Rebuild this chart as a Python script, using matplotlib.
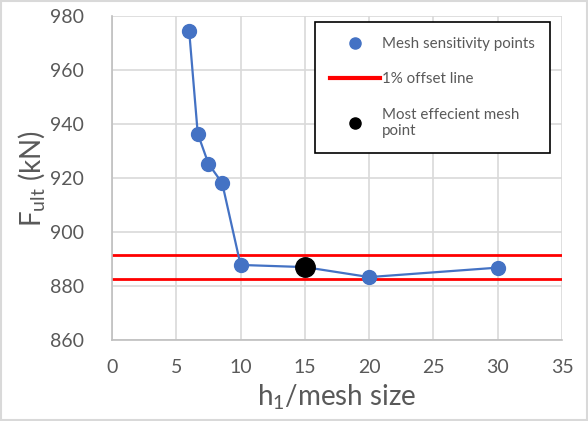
import matplotlib
matplotlib.use("Agg")
import matplotlib.pyplot as plt
from matplotlib.lines import Line2D
from matplotlib.patches import Rectangle

plt.rcParams['font.family'] = ['Lato', 'DejaVu Sans']
plt.rcParams['mathtext.fontset'] = 'custom'
plt.rcParams['mathtext.rm'] = 'Lato'
plt.rcParams['mathtext.it'] = 'Lato'

h_ratio = [6, 6.67, 7.5, 8.57, 10, 15, 20, 30]
f_ult = [974.6, 936.4, 925.3, 918.1, 887.8, 887.0, 883.3, 886.8]
best_x = [15]
best_y = [887.0]
offset_upper = [891.4, 891.4]
offset_lower = [882.6, 882.6]
offset_x = [0, 35]
xticks = [0, 5, 10, 15, 20, 25, 30, 35]
yticks = [860, 880, 900, 920, 940, 960, 980]

blue = '#4472C4'
tick_col = '#595959'
grid_col = '#D9D9D9'

fig = plt.figure(figsize=(5.88, 4.21), dpi=100)
ax = fig.add_axes([112/588, 1-340/421, 450/588, 324/421])

ax.plot(offset_x, offset_upper, color='#FF0000', lw=2, zorder=2)
ax.plot(offset_x, offset_lower, color='#FF0000', lw=2, zorder=2)
ax.plot(h_ratio, f_ult, color=blue, lw=1.6, marker='o', ms=10, zorder=3)
ax.plot(best_x, best_y, 'o', color='black', ms=14, zorder=4, lw=0)

ax.set_xlim(0, 35)
ax.set_ylim(860, 980)
ax.set_xticks(xticks)
ax.set_yticks(yticks)
ax.grid(True, color=grid_col, lw=1.2)
ax.set_axisbelow(True)
for s in ['top', 'right']:
    ax.spines[s].set_visible(False)
for s in ['left', 'bottom']:
    ax.spines[s].set_color('#BFBFBF')
    ax.spines[s].set_linewidth(1.2)
ax.tick_params(length=0, colors=tick_col, labelsize=14)
ax.tick_params(axis='x', pad=14)
ax.tick_params(axis='y', pad=20)

ax.set_xlabel(r'h$_\mathrm{1}$/mesh size', fontsize=20, color=tick_col, labelpad=4)
ax.set_ylabel(r'F$_{\mathrm{ult}}$ (kN)', fontsize=20, color=tick_col, labelpad=2)

handles = [
    Line2D([], [], marker='o', color=blue, lw=0, ms=8),
    Line2D([], [], color='#FF0000', lw=3),
    Line2D([], [], marker='o', color='black', lw=0, ms=8),
]
labels = ['Mesh sensitivity points', '1% offset line', 'Most effecient mesh\npoint']
leg = ax.legend(handles, labels, loc='upper left', bbox_to_anchor=(203/450, 1-6/324),
                borderaxespad=0,
                frameon=True, fancybox=False, fontsize=10.9, labelspacing=1.4,
                handlelength=3.3, handletextpad=0.1, borderpad=1.0,
                labelcolor=tick_col, framealpha=1)
leg.get_frame().set_edgecolor('black')
leg.get_frame().set_linewidth(1.2)

fig.patches.append(Rectangle((0.002, 0.002), 0.996, 0.996, transform=fig.transFigure,
                             fill=False, edgecolor='#D9D9D9', lw=1.5))

fig.savefig('out.png', dpi=100)
